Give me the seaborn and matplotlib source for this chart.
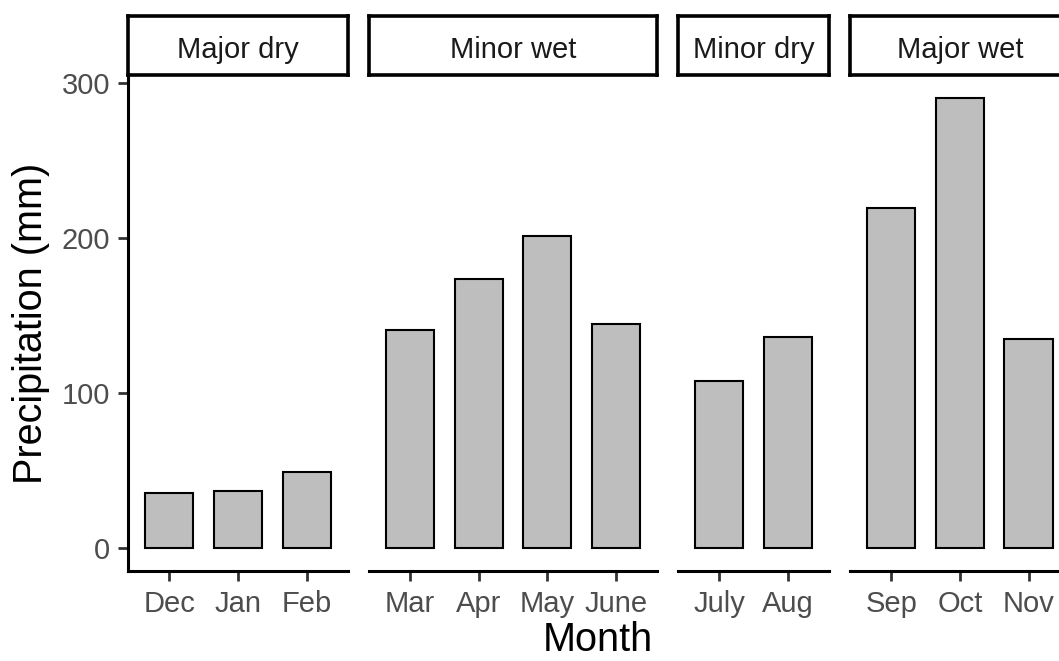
import matplotlib
matplotlib.use("Agg")
import matplotlib.pyplot as plt
import pandas as pd
import seaborn as sns

# data
seasons = ["Major dry", "Minor wet", "Minor dry", "Major wet"]
months = ["Dec", "Jan", "Feb", "Mar", "Apr", "May", "June", "July", "Aug", "Sep", "Oct", "Nov"]
season_of_month = ["Major dry"] * 3 + ["Minor wet"] * 4 + ["Minor dry"] * 2 + ["Major wet"] * 3
precip = [35.5, 37, 49, 140.5, 173.5, 201, 144.5, 108, 136, 219.5, 290.5, 135]

df = pd.DataFrame({"Season": season_of_month, "Month": months, "Precipitation": precip})

sns.set_theme(style="white")
plt.rcParams['font.family'] = ['Liberation Sans', 'DejaVu Sans']

W, H = 1059, 661
fig = plt.figure(figsize=(W / 100, H / 100), dpi=100)

unit = 68.7      # px per category
gap = 20.8       # px between panels
left0 = 128
top_px, bot_px = 75, 571
strip_top = 16

ymax = df["Precipitation"].max()
ylo, yhi = -0.05 * ymax, ymax * 1.05

x = left0
for i, s in enumerate(seasons):
    sub = df[df["Season"] == s]
    n = len(sub)
    wpx = (n + 0.2) * unit
    ax = fig.add_axes([x / W, 1 - bot_px / H, wpx / W, (bot_px - top_px) / H])
    sns.barplot(data=sub, x="Month", y="Precipitation", order=list(sub["Month"]),
                color="#BEBEBE", saturation=1, edgecolor="black", linewidth=1.5,
                width=0.7, errorbar=None, ax=ax)
    ax.set_xlim(-0.6, n - 0.4)
    ax.set_ylim(ylo, yhi)
    ax.set_xlabel("")
    ax.set_ylabel("")
    for sp in ["top", "right"]:
        ax.spines[sp].set_visible(False)
    ax.spines["bottom"].set_linewidth(2.2)
    ax.spines["bottom"].set_color("black")
    ax.tick_params(axis="x", bottom=True, length=7, width=2, color="#333333",
                   labelsize=21, labelcolor="#4D4D4D", pad=7)
    if i == 0:
        ax.spines["left"].set_linewidth(2.2)
        ax.spines["left"].set_color("black")
        ax.set_yticks([0, 100, 200, 300])
        ax.tick_params(axis="y", left=True, length=7, width=2, color="#333333",
                       labelsize=21, labelcolor="#4D4D4D", pad=6)
    else:
        ax.spines["left"].set_visible(False)
        ax.set_yticks([])

    # facet strip
    sax = fig.add_axes([x / W, 1 - top_px / H, wpx / W, (top_px - strip_top) / H])
    sax.set_xticks([])
    sax.set_yticks([])
    sax.set_facecolor("white")
    for sp in sax.spines.values():
        sp.set_linewidth(2.6)
        sp.set_color("black")
    sax.text(0.5, 0.43, s, ha="center", va="center", fontsize=21, color="#1A1A1A",
             transform=sax.transAxes)

    x += wpx + gap

fig.text(31 / W, 1 - 323 / H, "Precipitation (mm)", rotation=90, ha="center", va="center",
         fontsize=28.5, color="black")
fig.text(598 / W, 1 - 651 / H, "Month", ha="center", va="baseline", fontsize=28.5, color="black")

fig.savefig("out.png", dpi=100)
